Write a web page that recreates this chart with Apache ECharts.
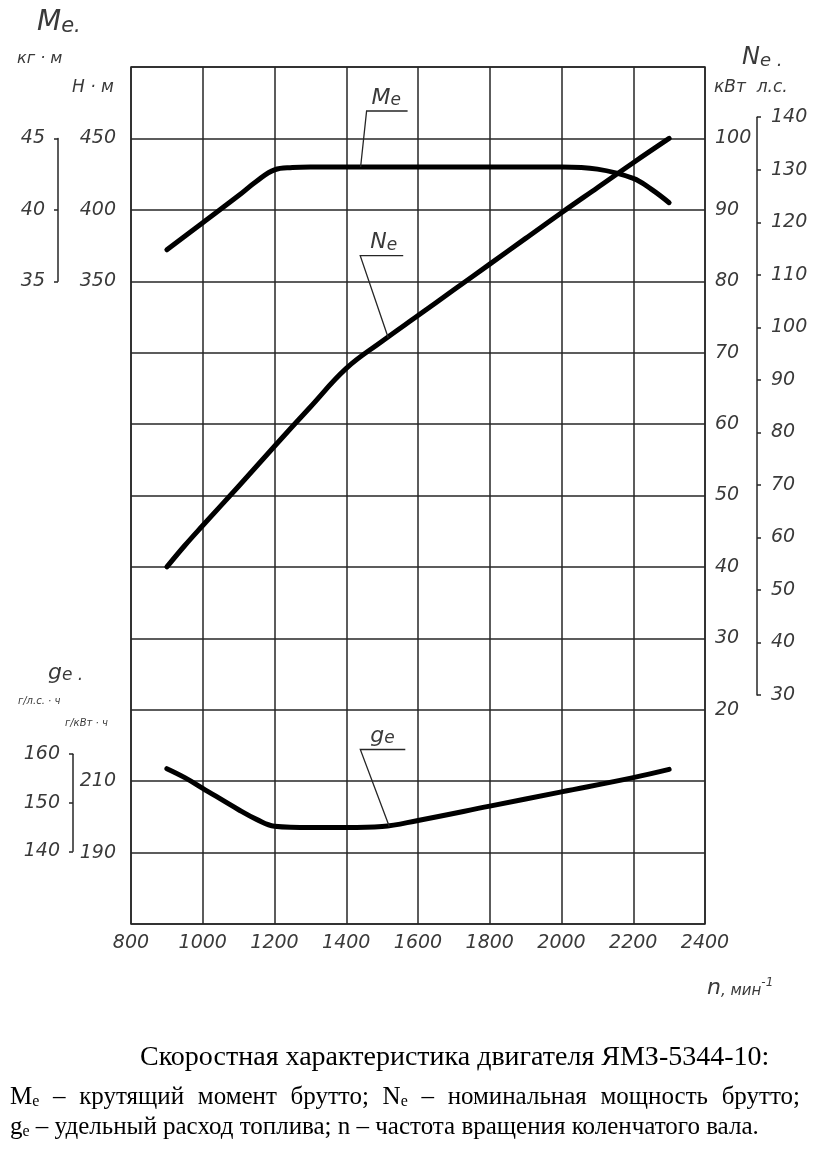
<!DOCTYPE html>
<html lang="ru">
<head>
<meta charset="utf-8">
<title>Скоростная характеристика двигателя ЯМЗ-5344-10</title>
<script src="https://cdn.jsdelivr.net/npm/echarts@6.0.0/dist/echarts.min.js"></script>
<style>
  html, body { margin: 0; padding: 0; background: #fff; }
  #chart { width: 820px; height: 1152px; }
</style>
</head>
<body>
<div id="chart"></div>
<script>
// подписи шкал
const rpmLabels = [800, 1000, 1200, 1400, 1600, 1800, 2000, 2200, 2400]
const kwLabels = [20, 30, 40, 50, 60, 70, 80, 90, 100]
const hpLabels = [30, 40, 50, 60, 70, 80, 90, 100, 110, 120, 130, 140]
const nmLabels = [350, 400, 450]
const kgmLabels = [35, 40, 45]
const gkwhLabels = [190, 210]
const ghphLabels = [140, 150, 160]

// Me, Н·м
const meRpm = [900, 1000, 1100, 1150, 1200, 1250, 1300, 1400, 1600, 1800, 2000, 2100, 2200, 2250, 2300]
const meNm = [372, 391, 410, 420, 428, 429.6, 430, 430, 430, 430, 430, 428.5, 422, 414.5, 405]

// Ne, кВт
const neRpm = [900, 950, 1000, 1100, 1200, 1300, 1400, 1500, 1600, 1700, 1800, 1900, 2000, 2100, 2200, 2300]
const neKw = [40, 43, 45.8, 51.3, 56.9, 62.4, 67.8, 71.6, 75.2, 78.8, 82.4, 86, 89.6, 93.1, 96.6, 100]

// ge, г/кВт·ч
const geRpm = [900, 950, 1000, 1100, 1150, 1200, 1300, 1400, 1500, 1600, 1800, 2000, 2200, 2300]
const geGkwh = [213.5, 211, 208, 202, 199.3, 197.4, 197, 197, 197.3, 199, 203, 207, 211, 213.3]

// точки на кривых, куда приходят выноски
const meCallout = [1440, 430]
const neCallout = [1517, 72.1]
const geCallout = [1520, 197.3]

// пересчёт шкал
const HP_KW = 0.7355
const KGM_NM = 10
const KW_MIN = -10, KW_MAX = 110
const nmToKw = (nm) => (nm + 50) / 5
const gToKw = (g) => (g - 190) / 2
const kwToNm = (kw) => kw * 5 - 50
const kwToG = (kw) => kw * 2 + 190

const plot = { left: 131, top: 67, width: 574, height: 857 }
const yPx = (kw) => plot.top + (KW_MAX - kw) / (KW_MAX - KW_MIN) * plot.height

const ink = '#262626'
const gray = '#3a3a3a'
const gost = { fontFamily: 'DejaVu Sans', fontStyle: 'italic', fontWeight: 200 }
const serif = '"Liberation Serif", "Times New Roman", serif'

const chart = echarts.init(document.getElementById('chart'))

const scaleGrid = (left, kwTop, kwBottom) => {
  const top = yPx(kwTop)
  return { left, top, width: 1, height: yPx(kwBottom) - top, show: false, outerBoundsMode: 'none' }
}

const only = (list) => (v) => (list.includes(v) ? String(v) : '')

const mainY = (min, max, interval, list, position, split) => ({
  type: 'value', gridIndex: 0, position, min, max, interval,
  axisLine: { show: false, onZero: false },
  axisTick: { show: false },
  splitLine: { show: split, lineStyle: { color: ink, width: 1.5 } },
  axisLabel: { ...gost, color: gray, fontSize: 19, margin: position === 'left' ? 15 : 10, formatter: only(list) }
})

const scaleY = (gridIndex, list, interval, position) => ({
  type: 'value', gridIndex, position, interval,
  min: list[0], max: list[list.length - 1],
  axisLine: { show: true, onZero: false, lineStyle: { color: ink, width: 1.5 } },
  axisTick: { show: true, length: 4, lineStyle: { color: ink, width: 1.5 } },
  splitLine: { show: false },
  axisLabel: { ...gost, color: gray, fontSize: 19, margin: position === 'left' ? 13 : 14, formatter: (v) => String(v) }
})

const curve = (name, yAxisIndex, xs, ys) => ({
  name, type: 'line', xAxisIndex: 0, yAxisIndex,
  data: xs.map((x, i) => [x, ys[i]]),
  smooth: 0.4, symbol: 'none', silent: true, z: 5,
  lineStyle: { color: '#000', width: 5, cap: 'round', join: 'round' }
})

chart.setOption({
  animation: false,
  backgroundColor: '#fff',
  grid: [
    { ...plot, show: true, borderColor: ink, borderWidth: 1.5, outerBoundsMode: 'none' },
    scaleGrid(58, nmToKw(kgmLabels[2] * KGM_NM), nmToKw(kgmLabels[0] * KGM_NM)),
    scaleGrid(756, hpLabels[hpLabels.length - 1] * HP_KW, hpLabels[0] * HP_KW),
    scaleGrid(73, gToKw(ghphLabels[2] / HP_KW), gToKw(ghphLabels[0] / HP_KW))
  ],
  xAxis: [
    {
      type: 'value', gridIndex: 0, min: rpmLabels[0], max: rpmLabels[rpmLabels.length - 1], interval: 200,
      axisLine: { show: false, onZero: false },
      axisTick: { show: false },
      splitLine: { show: true, lineStyle: { color: ink, width: 1.5 } },
      axisLabel: { ...gost, color: gray, fontSize: 19, margin: 10, formatter: only(rpmLabels) }
    },
    { type: 'value', gridIndex: 1, show: false, min: 0, max: 1 },
    { type: 'value', gridIndex: 2, show: false, min: 0, max: 1 },
    { type: 'value', gridIndex: 3, show: false, min: 0, max: 1 }
  ],
  yAxis: [
    mainY(KW_MIN, KW_MAX, 10, kwLabels, 'right', true),
    mainY(kwToNm(KW_MIN), kwToNm(KW_MAX), 50, nmLabels, 'left', false),
    mainY(kwToG(KW_MIN), kwToG(KW_MAX), 20, gkwhLabels, 'left', false),
    scaleY(1, kgmLabels, 5, 'left'),
    scaleY(2, hpLabels, 10, 'right'),
    scaleY(3, ghphLabels, 10, 'left')
  ],
  series: [
    curve('Ne', 0, neRpm, neKw),
    curve('Me', 1, meRpm, meNm),
    curve('ge', 2, geRpm, geGkwh)
  ]
})

// надписи в чертёжном стиле
const gostRich = (big, small) => ({
  b: { ...gost, fontSize: big, lineHeight: big, fill: gray, verticalAlign: 'bottom' },
  s: { ...gost, fontSize: small, lineHeight: Math.round(0.4 * big + 0.6 * small), fill: gray, verticalAlign: 'bottom' }
})

const gostText = (x, y, text, size, extra) => ({
  type: 'text', x, y, z: 20, silent: true,
  style: { ...gost, text, fontSize: size, fill: gray, verticalAlign: 'middle', ...extra }
})

const label = (x, y, letter, big, small, tail) => ({
  type: 'text', x, y, z: 20, silent: true,
  style: { text: `{b|${letter}}{s|e${tail || ''}}`, rich: gostRich(big, small), verticalAlign: 'bottom' }
})

const callout = (seriesIndex, at, dx, dy, len, letter, tx) => {
  const [ex, ey] = chart.convertToPixel({ seriesIndex }, at)
  const cx = ex + dx, cy = ey + dy
  return [
    {
      type: 'polyline', z: 20, silent: true,
      shape: { points: [[cx + len, cy], [cx, cy], [ex, ey]] },
      style: { stroke: ink, lineWidth: 1.3, fill: null }
    },
    label(cx + tx, cy - 2, letter, 22, 17)
  ]
}

// подпись под рисунком, вторая строка по ширине
const ctx = document.createElement('canvas').getContext('2d')
const textWidth = (s, size) => { ctx.font = `${size}px ${serif}`; return ctx.measureText(s).width }

const capRich = {
  t: { fontFamily: serif, fontSize: 25, lineHeight: 25, fill: '#000', verticalAlign: 'bottom' },
  s: { fontFamily: serif, fontSize: 16, lineHeight: 14, fill: '#000', verticalAlign: 'bottom' }
}

const justified = (words, x0, x1, y) => {
  const widths = words.map((w) => Array.isArray(w) ? textWidth(w[0], 25) + textWidth(w[1], 16) : textWidth(w, 25))
  const gap = (x1 - x0 - widths.reduce((a, b) => a + b, 0)) / (words.length - 1)
  let x = x0
  return words.map((w, i) => {
    const el = {
      type: 'text', x, y, z: 20, silent: true,
      style: { text: Array.isArray(w) ? `{t|${w[0]}}{s|${w[1]}}` : `{t|${w}}`, rich: capRich, verticalAlign: 'middle' }
    }
    x += widths[i] + gap
    return el
  })
}

const line2 = [['M', 'e'], '–', 'крутящий', 'момент', 'брутто;', ['N', 'e'], '–', 'номинальная', 'мощность', 'брутто;']

chart.setOption({
  graphic: [
    // Me
    label(37, 37, 'M', 28, 21, '.'),
    gostText(17, 59, 'кг · м', 16),
    gostText(72, 88, 'Н · м', 17),
    // Ne
    label(742, 70, 'N', 24, 18, ' .'),
    gostText(714, 88, 'кВт  л.с.', 17),
    // ge
    label(48, 684, 'g', 22, 17, ' .'),
    gostText(18, 701, 'г/л.с. · ч', 10),
    gostText(65, 723, 'г/кВт · ч', 10),
    // n
    {
      type: 'text', x: 707, y: 999, z: 20, silent: true,
      style: {
        text: '{b|n}{s|, мин}{p|-1}', verticalAlign: 'bottom',
        rich: {
          b: { ...gost, fontSize: 22, lineHeight: 22, fill: gray, verticalAlign: 'bottom' },
          s: { ...gost, fontSize: 15, lineHeight: 18, fill: gray, verticalAlign: 'bottom' },
          p: { ...gost, fontSize: 12, lineHeight: 12, fill: gray, verticalAlign: 'top' }
        }
      }
    },
    ...callout(1, meCallout, 6, -56, 41, 'M', 5),
    ...callout(0, neCallout, -28, -82, 43, 'N', 10),
    ...callout(2, geCallout, -29, -77, 45, 'g', 10),
    // подпись
    {
      type: 'text', x: 140, y: 1058, z: 20, silent: true,
      style: { text: 'Скоростная характеристика двигателя ЯМЗ-5344-10:', fontFamily: serif, fontSize: 28, fill: '#000', verticalAlign: 'middle' }
    },
    ...justified(line2, 10, 800, 1097),
    {
      type: 'text', x: 10, y: 1127, z: 20, silent: true,
      style: { text: '{t|g}{s|e}{t| – удельный расход топлива; n – частота вращения коленчатого вала.}', rich: capRich, verticalAlign: 'middle' }
    }
  ]
})
</script>
</body>
</html>
